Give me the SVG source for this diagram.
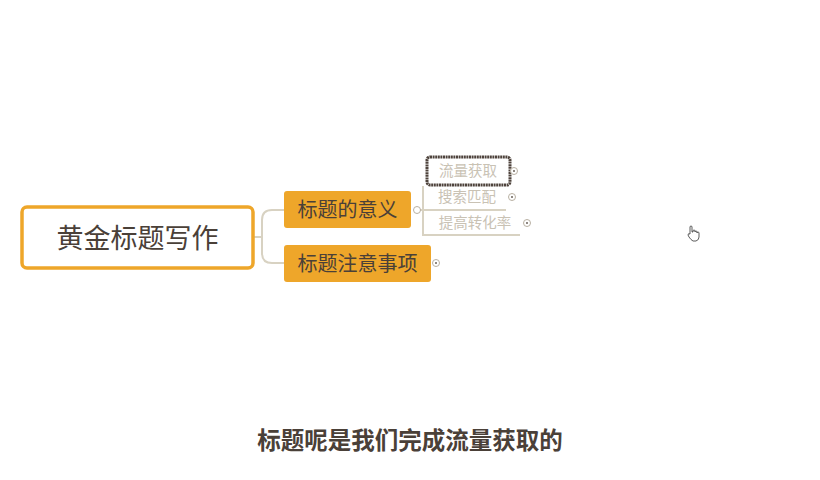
<svg xmlns="http://www.w3.org/2000/svg" width="820" height="480" viewBox="0 0 820 480">
<style>
.cn{font-family:"Noto Sans CJK SC","Noto Sans CJK JP",sans-serif}
.main{font-size:27px;fill:#4a4038}
.l1{font-size:20px;fill:#4a4038}
.l2{font-size:14.5px;fill:#c9c2b4}
.cap{font-size:23.5px;font-weight:bold;fill:#4a4038}
.conn{fill:none;stroke:#d8d2c2;stroke-width:2}
.dot{fill:#fff;stroke:#b8b0a2;stroke-width:1}
</style>
<rect width="820" height="480" fill="#fff"/>
<g id="connectors">
<path class="conn" d="M253 237 H262"/>
<path class="conn" d="M284 210 H272 Q262 210 262 220 V253 Q262 263 272 263 H284"/>
<path class="conn" d="M417 210 H423"/>
<path class="conn" d="M423 186 V235 H520"/>
<path class="conn" d="M423 210 H506"/>
</g>
<g id="root">
<rect x="22" y="207" width="231" height="61" rx="5" fill="#fff" stroke="#eea62a" stroke-width="3.5"/>
<text class="cn main" x="137.5" y="247.5" text-anchor="middle">黄金标题写作</text>
</g>
<g id="n1">
<rect x="284" y="191" width="127" height="37" rx="3" fill="#eea62a"/>
<text class="cn l1" x="347.5" y="216.5" text-anchor="middle">标题的意义</text>
<circle class="dot" cx="417" cy="210" r="3.5"/>
</g>
<g id="n2">
<rect x="284" y="245" width="147" height="37" rx="3" fill="#eea62a"/>
<text class="cn l1" x="357.5" y="270.5" text-anchor="middle">标题注意事项</text>
<circle class="dot" cx="436" cy="263" r="3.5"/>
<circle cx="436" cy="263" r="1" fill="#6a6058"/>
</g>
<g id="n1a">
<rect x="427" y="157" width="83" height="28" rx="3" fill="#fff" stroke="#4e433c" stroke-width="3" stroke-dasharray="2 0.6"/>
<text class="cn l2" x="468" y="176" text-anchor="middle">流量获取</text>
<circle class="dot" cx="514" cy="171" r="3.5"/>
<circle cx="514" cy="171" r="1" fill="#6a6058"/>
</g>
<g id="n1b">
<text class="cn l2" x="467" y="202" text-anchor="middle">搜索匹配</text>
<circle class="dot" cx="512" cy="197" r="3.5"/>
<circle cx="512" cy="197" r="1" fill="#6a6058"/>
</g>
<g id="n1c">
<text class="cn l2" x="475" y="228" text-anchor="middle">提高转化率</text>
<circle class="dot" cx="527" cy="223" r="3.5"/>
<circle cx="527" cy="223" r="1" fill="#6a6058"/>
</g>
<path d="M690 231 v-4 a1 1 0 0 1 2 0 v5 l1 0 v-1 a1 1 0 0 1 2 0 v1 a1 1 0 0 1 2 0 v1 a1 1 0 0 1 2 0 v4 q0 3 -3 4 h-3 q-2 -1 -4 -4 l-1 -2 q0 -2 2 -1 z" fill="#fff" stroke="#333" stroke-width="0.8"/>
<text class="cn cap" x="410" y="449" text-anchor="middle">标题呢是我们完成流量获取的</text>
</svg>
